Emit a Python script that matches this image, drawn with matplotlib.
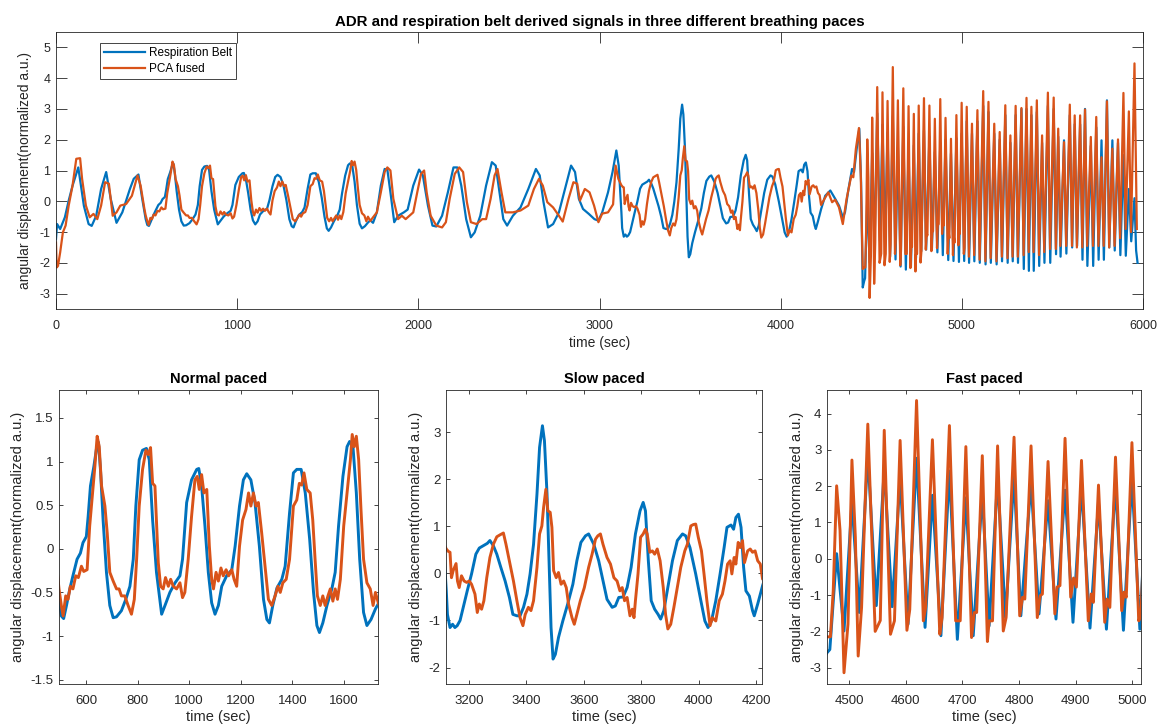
import numpy as np
import matplotlib
matplotlib.use('Agg')
import matplotlib.pyplot as plt
from matplotlib.ticker import FuncFormatter

plt.rcParams['font.family'] = ['Liberation Sans', 'DejaVu Sans']
plt.rcParams['axes.unicode_minus'] = False

# (time in sec, value), one list per stretch of the recording
belt_early = [(0, -1.23), (6, -0.74), (23, -0.9), (49, -0.52), (70, 0.02), (91, 0.5), (123, 1.1), (154, -0.15),
              (180, -0.74), (197, -0.8), (222, -0.47), (249, 0.4), (277, 0.95), (302, 0.08), (334, -0.7),
              (366, -0.36), (408, 0.4), (429, 0.73), (455, 0.87), (476, 0.08)]
pca_early = [(0, -1.34), (4, -2.15), (11, -2.1), (23, -1.66), (38, -1.01), (53, -0.79), (70, -0.14), (91, 0.5),
             (112, 1.38), (133, 1.4), (144, 0.73), (165, -0.14), (186, -0.52), (207, -0.41), (228, -0.58),
             (249, -0.14), (271, 0.62), (292, 0.57), (313, -0.47), (334, -0.36), (355, -0.14), (387, -0.09),
             (419, 0.18), (450, 0.84), (467, 0.51), (488, -0.25)]

belt_normal = [(495, -0.58), (504, -0.77), (513, -0.8), (524, -0.65), (537, -0.46), (549, -0.31), (565, -0.12),
               (578, -0.05), (588, 0.07), (601, 0.14), (608, 0.37), (617, 0.72), (630, 0.94), (640, 1.14),
               (648, 1.22), (656, 0.9), (666, 0.33), (679, -0.27), (692, -0.65), (705, -0.79), (718, -0.78),
               (737, -0.71), (754, -0.58), (770, -0.43), (783, -0.12), (793, 0.49), (806, 1.02), (819, 1.13),
               (834, 1.15), (845, 1.02), (858, 0.33), (873, -0.27), (893, -0.75), (906, -0.65), (925, -0.5),
               (945, -0.39), (964, -0.31), (974, -0.12), (990, 0.53), (1009, 0.79), (1029, 0.91), (1037, 0.92),
               (1048, 0.72), (1061, 0.26), (1074, -0.27), (1087, -0.62), (1100, -0.75), (1113, -0.65),
               (1126, -0.43), (1145, -0.31), (1165, -0.24), (1178, 0.03), (1195, 0.49), (1210, 0.79),
               (1223, 0.86), (1239, 0.79), (1255, 0.53), (1272, 0.03), (1288, -0.58), (1301, -0.81),
               (1311, -0.85), (1324, -0.65), (1340, -0.45), (1359, -0.35), (1372, -0.2), (1389, 0.41),
               (1404, 0.87), (1417, 0.91), (1434, 0.91), (1450, 0.64), (1467, 0.11), (1482, -0.5), (1495, -0.88),
               (1505, -0.96), (1518, -0.85), (1534, -0.65), (1553, -0.46), (1566, -0.27), (1579, 0.26),
               (1596, 0.83), (1612, 1.17), (1622, 1.23), (1635, 1.17), (1648, 0.64), (1661, -0.12),
               (1676, -0.73), (1689, -0.88), (1705, -0.81), (1722, -0.69), (1735, -0.62)]
pca_normal = [(495, -0.46), (504, -0.65), (511, -0.77), (521, -0.54), (530, -0.58), (539, -0.43), (549, -0.46),
              (560, -0.31), (570, -0.33), (582, -0.2), (591, -0.26), (604, -0.24), (614, 0.26), (625, 0.64),
              (634, 0.94), (643, 1.29), (651, 1.17), (660, 0.72), (673, 0.49), (682, 0.18), (692, -0.27),
              (705, -0.37), (718, -0.46), (728, -0.46), (737, -0.54), (750, -0.54), (763, -0.65), (776, -0.75),
              (787, -0.58), (796, -0.12), (806, 0.49), (819, 0.91), (832, 1.13), (841, 1.08), (850, 1.16),
              (858, 0.75), (867, 0.72), (880, -0.16), (889, -0.43), (899, -0.46), (908, -0.33), (919, -0.43),
              (928, -0.35), (938, -0.43), (951, -0.46), (964, -0.39), (974, -0.56), (983, -0.5), (996, -0.12),
              (1009, 0.37), (1022, 0.79), (1031, 0.83), (1039, 0.68), (1048, 0.85), (1057, 0.64), (1068, 0.68),
              (1078, 0.03), (1087, -0.35), (1094, -0.46), (1104, -0.27), (1113, -0.37), (1123, -0.22),
              (1132, -0.31), (1143, -0.24), (1153, -0.31), (1165, -0.24), (1174, -0.35), (1184, -0.43),
              (1195, 0.03), (1207, 0.33), (1220, 0.45), (1230, 0.64), (1239, 0.49), (1249, 0.64), (1259, 0.49),
              (1268, 0.53), (1281, 0.18), (1294, -0.2), (1307, -0.58), (1320, -0.65), (1333, -0.54),
              (1344, -0.43), (1353, -0.5), (1363, -0.39), (1376, -0.35), (1389, -0.12), (1404, 0.49),
              (1417, 0.56), (1427, 0.75), (1436, 0.73), (1445, 0.87), (1456, 0.68), (1469, 0.64), (1479, 0.33),
              (1488, -0.12), (1497, -0.54), (1508, -0.65), (1518, -0.54), (1527, -0.65), (1538, -0.54),
              (1547, -0.46), (1557, -0.6), (1566, -0.46), (1575, -0.58), (1586, -0.35), (1599, 0.26),
              (1612, 0.64), (1625, 1.02), (1632, 1.31), (1640, 1.17), (1648, 1.29), (1657, 1.02), (1666, 0.45),
              (1676, -0.12), (1689, -0.39), (1702, -0.46), (1713, -0.65), (1722, -0.5), (1735, -0.64)]

belt_mid = [(1750, -0.7), (1771, -0.36), (1793, 0.51), (1814, 1.05), (1829, 1.03), (1846, 0.29), (1867, -0.68),
            (1888, -0.47), (1920, -0.36), (1941, -0.27), (1972, 0.51), (2004, 1.03), (2025, 0.84), (2053, -0.14),
            (2078, -0.79), (2099, -0.82), (2131, -0.47), (2163, 0.29), (2194, 1.1), (2215, 1.1), (2237, 0.51),
            (2264, -0.58), (2290, -1.17), (2311, -1.01), (2342, -0.47), (2374, 0.51), (2406, 1.27), (2427, 1.16),
            (2448, 0.29), (2469, -0.58), (2490, -0.79), (2522, -0.47), (2564, -0.2), (2607, 0.4), (2649, 1.05),
            (2670, 0.84), (2691, -0.03), (2716, -0.85), (2744, -0.74), (2776, -0.36), (2814, 0.51), (2843, 1.16),
            (2865, 0.95), (2886, 0.08), (2909, -0.25), (2941, -0.41), (2972, -0.58), (2994, -0.63), (3015, -0.36),
            (3047, 0.29), (3072, 0.95), (3093, 1.65), (3106, 1.16)]
pca_mid = [(1750, -0.52), (1771, -0.36), (1793, 0.29), (1814, 0.95), (1829, 1.1), (1846, 1.0), (1862, 0.08),
           (1888, -0.58), (1909, -0.47), (1930, -0.58), (1951, -0.47), (1972, -0.36), (1994, 0.29), (2015, 0.89),
           (2032, 1.0), (2046, 0.29), (2068, -0.47), (2099, -0.79), (2131, -0.85), (2152, -0.68), (2173, 0.08),
           (2201, 0.89), (2226, 1.1), (2247, 0.95), (2268, -0.03), (2290, -0.68), (2321, -0.74), (2353, -0.58),
           (2374, -0.58), (2399, 0.08), (2421, 0.84), (2437, 1.05), (2459, 0.29), (2480, -0.36), (2522, -0.36),
           (2564, -0.3), (2607, -0.14), (2638, 0.4), (2666, 0.73), (2687, 0.51), (2712, -0.03), (2744, -0.2),
           (2776, -0.47), (2797, -0.66), (2829, 0.08), (2856, 0.62), (2877, 0.57), (2892, 0.02), (2919, 0.4),
           (2945, 0.29), (2970, -0.14), (2994, -0.68), (3015, -0.4), (3047, -0.36), (3075, -0.1), (3089, 1.16),
           (3104, 0.73)]

belt_slow = [(3121, -0.37), (3125, -0.87), (3134, -1.15), (3143, -1.08), (3151, -1.15), (3159, -1.11), (3169, -1.0),
             (3180, -0.72), (3194, -0.37), (3209, -0.01), (3224, 0.41), (3236, 0.54), (3250, 0.59), (3264, 0.64),
             (3273, 0.7), (3285, 0.59), (3297, 0.41), (3311, 0.13), (3326, -0.16), (3341, -0.51), (3353, -0.87),
             (3367, -0.9), (3378, -0.9), (3390, -0.72), (3402, -0.44), (3413, -0.01), (3425, 0.62), (3437, 1.69),
             (3446, 2.68), (3456, 3.14), (3463, 2.82), (3472, 1.69), (3479, 0.27), (3486, -1.15), (3493, -1.82),
             (3501, -1.72), (3512, -1.36), (3527, -1.01), (3544, -0.65), (3562, -0.23), (3576, 0.27), (3590, 0.66),
             (3606, 0.8), (3617, 0.84), (3635, 0.62), (3652, 0.27), (3667, -0.16), (3681, -0.55), (3699, -0.72),
             (3710, -0.69), (3722, -0.51), (3737, -0.5), (3751, -0.3), (3765, 0.13), (3780, 0.84), (3796, 1.33),
             (3807, 1.51), (3815, 1.33), (3825, 0.27), (3835, -0.58), (3847, -0.76), (3859, -0.87), (3868, -0.97),
             (3879, -0.79), (3893, -0.3), (3909, 0.27), (3926, 0.7), (3944, 0.84), (3955, 0.8), (3970, 0.55),
             (3990, -0.01), (4008, -0.58), (4022, -1.01), (4033, -1.15), (4045, -1.01), (4060, -0.58),
             (4075, -0.01), (4089, 0.55), (4099, 0.98), (4113, 1.03), (4122, 0.94), (4130, 1.19), (4139, 1.26),
             (4148, 0.98), (4157, 0.13), (4165, -0.37), (4177, -0.48), (4188, -0.79), (4194, -0.9), (4206, -0.65),
             (4223, -0.26)]
pca_slow = [(3121, 0.52), (3128, 0.47), (3134, 0.45), (3139, -0.09), (3145, 0.06), (3155, 0.21), (3160, -0.16),
            (3166, -0.3), (3174, -0.05), (3183, -0.16), (3192, -0.19), (3201, -0.16), (3209, -0.23), (3221, -0.44),
            (3229, -0.83), (3236, -0.65), (3244, -0.76), (3252, -0.58), (3262, -0.09), (3273, 0.34), (3285, 0.62),
            (3297, 0.78), (3308, 0.82), (3320, 0.86), (3329, 0.62), (3343, 0.2), (3355, -0.16), (3367, -0.58),
            (3378, -0.94), (3388, -1.11), (3396, -0.87), (3407, -0.72), (3416, -0.79), (3425, -0.58), (3437, 0.13),
            (3446, 0.84), (3454, 1.01), (3460, 1.4), (3468, 1.79), (3475, 1.33), (3483, 1.3), (3489, 0.98),
            (3495, 0.06), (3504, -0.09), (3512, 0.02), (3521, -0.23), (3530, -0.16), (3539, -0.3), (3547, -0.65),
            (3559, -0.94), (3567, -1.08), (3576, -0.87), (3588, -0.58), (3602, -0.3), (3617, 0.13), (3629, 0.41),
            (3641, 0.73), (3649, 0.8), (3658, 0.84), (3667, 0.62), (3681, 0.34), (3693, 0.2), (3705, -0.09),
            (3716, -0.16), (3726, -0.37), (3734, -0.3), (3742, -0.58), (3751, -0.51), (3761, -0.9), (3769, -0.76),
            (3775, -0.94), (3780, -0.58), (3789, -0.01), (3798, 0.77), (3807, 0.84), (3815, 0.94), (3821, 0.84),
            (3830, 0.45), (3839, 0.48), (3847, 0.41), (3856, 0.52), (3866, 0.27), (3877, -0.3), (3885, -0.87),
            (3893, -1.18), (3903, -1.08), (3914, -0.72), (3926, -0.3), (3938, 0.13), (3952, 0.48), (3961, 0.62),
            (3973, 1.01), (3982, 1.04), (3990, 1.05), (3999, 0.77), (4010, 0.48), (4019, -0.01), (4029, -0.58),
            (4040, -1.11), (4048, -0.94), (4060, -1.01), (4072, -0.58), (4083, -0.44), (4092, -0.16), (4101, 0.2),
            (4110, 0.27), (4116, -0.01), (4124, 0.34), (4130, 0.2), (4138, 0.66), (4145, 0.55), (4153, 0.7),
            (4160, 0.23), (4171, 0.48), (4180, 0.52), (4188, 0.45), (4197, 0.48), (4206, 0.27), (4215, 0.2),
            (4223, -0.12)]

belt_shift = [(4246, 0.18), (4274, 0.35), (4301, 0.08), (4322, -0.14), (4343, -0.52), (4355, -0.36), (4373, 0.35),
              (4394, 1.05), (4405, 0.95), (4422, 1.82), (4434, 2.36), (4444, 0.6), (4453, -2.8)]
pca_shift = [(4242, 0.08), (4263, 0.29), (4284, -0.03), (4301, 0.05), (4322, -0.2), (4343, -0.74), (4364, 0.08),
             (4390, 0.84), (4401, 0.78), (4415, 1.7), (4432, 2.38), (4442, 0.9), (4453, -2.2)]

belt_fast = [(4461, -2.59), (4466, -2.5), (4478, 0.14), (4491, -1.99), (4505, 1.57), (4518, -1.48), (4533, 2.86),
             (4548, -1.29), (4562, 2.49), (4576, -1.32), (4590, 2.24), (4604, -1.8), (4619, 2.77), (4634, -1.89),
             (4647, 1.75), (4662, -2.12), (4677, 2.42), (4691, -2.22), (4706, 1.68), (4719, -2.12), (4735, 1.82),
             (4747, -1.85), (4762, 2.2), (4776, -1.62), (4791, 2.3), (4803, -1.57), (4821, 2.1), (4835, -1.52),
             (4851, 1.6), (4865, -1.66), (4881, 1.89), (4895, -1.75), (4910, 2.0), (4925, -1.91), (4940, 1.55),
             (4954, -1.94), (4970, 2.05), (4984, -1.97), (4999, 2.2), (5013, -1.94)]
pca_fast = [(4461, -2.15), (4467, -2.15), (4472, -0.88), (4478, 2.01), (4484, 0.78), (4491, -3.14), (4498, -1.8),
            (4505, 2.72), (4511, 0.6), (4516, -2.68), (4522, -1.34), (4533, 3.71), (4546, -2.0), (4552, -1.8),
            (4555, -1.7), (4562, 3.54), (4573, -2.08), (4580, -1.71), (4590, 3.26), (4602, -1.97), (4607, -1.4),
            (4619, 4.36), (4631, -1.71), (4635, -1.34), (4647, 3.28), (4660, -2.08), (4664, -1.62), (4677, 3.67),
            (4688, -1.71), (4696, -1.71), (4706, 3.09), (4716, -2.17), (4721, -1.48), (4725, -1.48), (4735, 2.84),
            (4744, -2.28), (4747, -1.71), (4753, -1.71), (4762, 3.11), (4772, -1.99), (4777, -1.62), (4791, 3.35),
            (4801, -1.57), (4806, -1.06), (4810, -1.11), (4821, 3.11), (4832, -1.62), (4837, -1.02), (4841, -0.97),
            (4851, 2.68), (4863, -1.52), (4867, -0.78), (4872, -0.74), (4881, 3.32), (4891, -1.06), (4896, -0.53),
            (4901, -0.78), (4910, 2.71), (4922, -1.71), (4927, -0.97), (4931, -1.2), (4940, 2.03), (4951, -1.75),
            (4955, -1.11), (4960, -1.34), (4970, 2.8), (4981, -1.43), (4985, -0.92), (4989, -1.06), (4999, 3.2),
            (5011, -1.71), (5015, -1.52)]

belt_late = [(5027, 2.6), (5040, -2.0), (5056, 2.2), (5069, -1.95), (5086, 2.6), (5099, -2.0), (5118, 3.1),
             (5131, -2.05), (5147, 2.9), (5160, -2.0), (5179, 2.2), (5192, -2.05), (5209, 2.0), (5222, -1.95),
             (5240, 2.8), (5253, -2.0), (5268, 1.9), (5281, -1.95), (5297, 2.8), (5310, -2.0), (5329, 3.0),
             (5342, -2.2), (5357, 3.0), (5370, -2.26), (5384, 2.8), (5397, -2.26), (5414, 2.9), (5427, -2.1),
             (5443, 1.9), (5456, -2.0), (5475, 3.1), (5488, -2.0), (5507, 3.0), (5520, -1.72), (5532, 2.1),
             (5545, -1.8), (5564, 1.98), (5577, -1.7), (5596, 2.8), (5609, -1.5), (5623, 2.5), (5636, -1.45),
             (5653, 2.5), (5666, -1.9), (5680, 3.0), (5693, -2.1), (5712, 1.8), (5725, -2.1), (5742, 2.4),
             (5755, -1.9), (5771, 1.98), (5784, -1.9), (5801, 3.28), (5814, -1.5), (5831, 1.98), (5844, -1.6),
             (5862, 1.9), (5875, -1.75), (5892, 1.5), (5905, -1.77), (5922, 0.4), (5935, -1.3), (5953, 0.1),
             (5962, -1.6), (5970, -2.0)]
pca_late = [(5027, 3.07), (5039, -1.8), (5056, 2.52), (5068, -1.75), (5086, 2.96), (5098, -1.9), (5118, 3.58),
            (5130, -1.95), (5147, 3.23), (5159, -1.85), (5179, 2.52), (5191, -1.95), (5209, 2.25), (5221, -1.8),
            (5240, 3.12), (5252, -1.85), (5268, 2.14), (5280, -1.8), (5297, 3.1), (5309, -1.8), (5329, 3.03),
            (5341, -1.75), (5357, 3.36), (5369, -1.65), (5384, 3.07), (5396, -1.65), (5414, 3.28), (5426, -1.75),
            (5443, 2.14), (5455, -1.65), (5475, 3.53), (5487, -1.55), (5507, 3.37), (5519, -1.55), (5532, 2.36),
            (5544, -1.45), (5564, 1.92), (5576, -1.45), (5596, 3.14), (5608, -1.45), (5623, 2.79), (5635, -1.5),
            (5653, 2.79), (5665, -1.5), (5680, 2.98), (5692, -1.45), (5712, 2.09), (5724, -1.45), (5742, 2.74),
            (5754, -1.45), (5771, 1.43), (5783, -1.45), (5801, 3.25), (5813, -1.5), (5831, 1.71), (5843, -1.45),
            (5862, 2.01), (5874, -1.2), (5892, 3.52), (5904, -0.9), (5922, 2.92), (5934, -1.0), (5953, 4.48),
            (5966, -0.9)]


def join(*parts):
    arr = np.array([p for part in parts for p in part], dtype=float)
    return arr[:, 0], arr[:, 1]


belt_t, belt_v = join(belt_early, belt_normal, belt_mid, belt_slow, belt_shift, belt_fast, belt_late)
pca_t, pca_v = join(pca_early, pca_normal, pca_mid, pca_slow, pca_shift, pca_fast, pca_late)

BLUE = '#0072BD'
ORANGE = '#D95319'
AXC = '#262626'
ylab = 'angular displacement(normalized a.u.)'


def style(ax, ticklen, size):
    for s in ax.spines.values():
        s.set_color(AXC)
        s.set_linewidth(0.6)
    ax.tick_params(direction='in', length=ticklen, width=0.6, colors=AXC, top=True, right=True,
                   labelsize=size)
    ax.tick_params(axis='x', pad=8)
    ax.tick_params(axis='y', pad=4)
    ax.yaxis.set_major_formatter(FuncFormatter(lambda v, p: f'{v:g}'))
    ax.xaxis.set_major_formatter(FuncFormatter(lambda v, p: f'{v:g}'))


fig = plt.figure(figsize=(11.61, 7.27), dpi=100)

ax = fig.add_axes([56 / 1161, 1 - 309 / 727, 1087 / 1161, 277 / 727])
ax.plot(belt_t, belt_v, color=BLUE, lw=1.6, label='Respiration Belt')
ax.plot(pca_t, pca_v, color=ORANGE, lw=1.6, label='PCA fused')
ax.set_xlim(0, 6000)
ax.set_ylim(-3.5, 5.5)
ax.set_xticks(np.arange(0, 6001, 1000))
ax.set_yticks(np.arange(-3, 6, 1))
style(ax, 8, 9)
ax.set_xlabel('time (sec)', fontsize=10, color=AXC, labelpad=3)
ax.set_ylabel(ylab, fontsize=10, color=AXC, labelpad=5)
ax.set_title('ADR and respiration belt derived signals in three different breathing paces',
             fontsize=10.8, fontweight='bold', pad=4)
leg = ax.legend(loc='upper left', bbox_to_anchor=(0.0405, 0.96), borderaxespad=0, fontsize=8.5,
                handlelength=3.5, handletextpad=0.3, labelspacing=0.35, borderpad=0.35,
                fancybox=False, framealpha=1, edgecolor=AXC)
leg.get_frame().set_linewidth(0.6)

panels = [
    ('Normal paced', [59, 378], (495, 1732), (-1.55, 1.82), np.arange(600, 1601, 200), np.arange(-1.5, 1.6, 0.5)),
    ('Slow paced', [446, 762], (3120, 4221), (-2.35, 3.9), np.arange(3200, 4201, 200), np.arange(-2, 4, 1)),
    ('Fast paced', [827, 1141], (4461, 5015), (-3.45, 4.65), np.arange(4500, 5001, 100), np.arange(-3, 5, 1)),
]
for title, (x0, x1), xl, yl, xt, yt in panels:
    a = fig.add_axes([x0 / 1161, 1 - 684 / 727, (x1 - x0) / 1161, 294 / 727])
    a.plot(belt_t, belt_v, color=BLUE, lw=2.1)
    a.plot(pca_t, pca_v, color=ORANGE, lw=2.1)
    a.set_xlim(*xl)
    a.set_ylim(*yl)
    a.set_xticks(xt)
    a.set_yticks(yt)
    style(a, 3, 9.5)
    a.set_xlabel('time (sec)', fontsize=10.5, color=AXC, labelpad=2)
    a.set_ylabel(ylab, fontsize=10.5, color=AXC, labelpad=4)
    a.set_title(title, fontsize=10.5, fontweight='bold', pad=5)

fig.savefig('out.png', dpi=100)
